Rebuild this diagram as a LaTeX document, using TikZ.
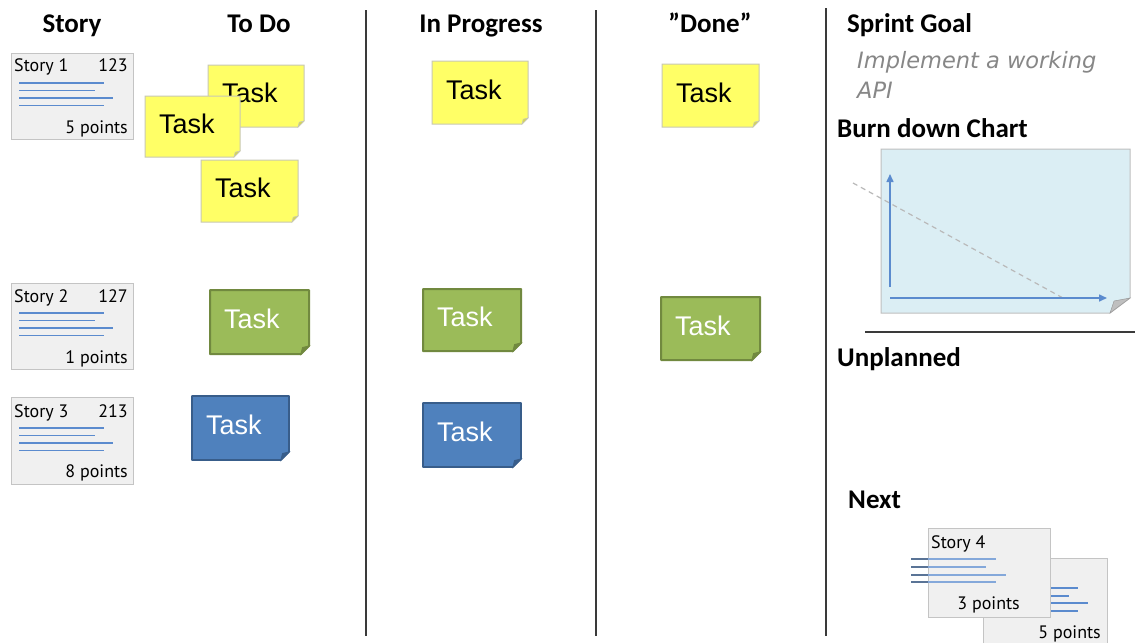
\documentclass[tikz,border=0pt]{standalone}
\usepackage{fontspec}
\setmainfont{Carlito}
\newfontfamily\taskfont{Liberation Sans}
\newfontfamily\cardfont{PT Sans}
\newfontfamily\goalfont{DejaVu Sans}
\usetikzlibrary{arrows.meta}

\definecolor{notey}{HTML}{FFFF66}
\definecolor{noteyline}{HTML}{C8C8B4}
\definecolor{noteyfold}{HTML}{D6D650}
\definecolor{greenfill}{HTML}{9BBB59}
\definecolor{greenline}{HTML}{71893F}
\definecolor{bluefill}{HTML}{4F81BD}
\definecolor{blueline}{HTML}{385D8A}
\definecolor{cardfill}{HTML}{F0F0F0}
\definecolor{cardline}{HTML}{C4C4C4}
\definecolor{lineblue}{HTML}{5B8BCE}
\definecolor{linedark}{HTML}{5A7496}
\definecolor{chartfill}{HTML}{DBEEF4}
\definecolor{chartline}{HTML}{BFBFBF}
\definecolor{divider}{HTML}{3A3A3A}
\definecolor{goalgray}{HTML}{878787}

\tikzset{
  header/.style={font=\bfseries\fontsize{27}{32}\selectfont, inner sep=0pt},
  tasktext/.style={font=\taskfont\fontsize{27}{32}\selectfont, inner sep=0pt, anchor=west},
  cardtxt/.style={font=\cardfont\fontsize{18}{21}\selectfont, inner sep=0pt},
  goaltxt/.style={font=\goalfont\itshape\fontsize{22.5}{30}\selectfont, text=goalgray, anchor=base west, inner sep=0pt},
  yellownote/.style={fill=notey, draw=noteyline, line width=1},
  yellowfold/.style={fill=noteyfold, draw=noteyline, line width=0.6},
  greennote/.style={fill=greenfill, draw=greenline, line width=2, line join=round},
  greenfold/.style={fill=greenline, draw=greenline, line width=1},
  bluenote/.style={fill=bluefill, draw=blueline, line width=1.6, line join=round},
  bluefold/.style={fill=blueline, draw=blueline, line width=1},
  storycard/.style={fill=cardfill, draw=cardline, line width=1},
  storyline/.style={lineblue, line width=1.6},
  divline/.style={divider, line width=2},
  axis/.style={lineblue, line width=1.5, -{Triangle[length=8,width=7]}},
}

% sticky note with a folded bottom-right corner and its "Task" label
% #1 name, #2 x1, #3 y1, #4 x2, #5 y2, #6 body style, #7 fold style, #8 fold size, #9 text colour
\newcommand\stickynote[9]{%
  \path[#6] (#2,#3) -- (#4,#3) -- (#4,#5-#8) -- (#4-#8,#5) -- (#2,#5) -- cycle;
  \path[#7] (#4,#5-#8) -- (#4-#8,#5) -- (#4-#8*0.8,#5-#8*0.8) -- cycle;
  \node[tasktext, text=#9] (#1) at (#2+14,{(#3+#5)/2-3}) {Task};
}

% four ruled lines on a story card: x start, first y, then the four end points
\newcommand\cardlines[6]{%
  \draw[storyline] (#1,#2) -- (#3,#2);
  \draw[storyline] (#1,#2+7.5) -- (#4,#2+7.5);
  \draw[storyline] (#1,#2+15) -- (#5,#2+15);
  \draw[storyline] (#1,#2+22.5) -- (#6,#2+22.5);
}

\begin{document}
\begin{tikzpicture}[x=1pt,y=-1pt]
\useasboundingbox[fill=white] (0,0) rectangle (1135,643);

% column dividers
\coordinate (d1t) at (366,10); \coordinate (d1b) at (366,636);
\coordinate (d2t) at (596,10); \coordinate (d2b) at (596,636);
\coordinate (d3t) at (826,8);  \coordinate (d3b) at (826,636);
\draw[divline] (d1t) -- (d1b);
\draw[divline] (d2t) -- (d2b);
\draw[divline] (d3t) -- (d3b);

% column headers
\node[header, anchor=base] (hStory) at (72,32) {Story};
\node[header, anchor=base] (hTodo) at (259,32) {To Do};
\node[header, anchor=base] (hProg) at (481,32) {In Progress};
\node[header, anchor=base] (hDone) at (710,32) {”Done”};
\node[header, anchor=base west] (hGoal) at (847,32) {Sprint Goal};

% story cards
\path[storycard] (11,53) rectangle (133,139);
\node[cardtxt, anchor=base west] (s1t) at (14,71) {Story 1};
\node[cardtxt, anchor=base east] (s1n) at (128,71) {123};
\cardlines{19}{83}{104}{95}{113}{104}
\node[cardtxt, anchor=base east] (s1p) at (128,133) {5 points};

\path[storycard] (11,283) rectangle (133,369);
\node[cardtxt, anchor=base west] (s2t) at (14,302) {Story 2};
\node[cardtxt, anchor=base east] (s2n) at (128,302) {127};
\cardlines{19}{313}{104}{95}{113}{104}
\node[cardtxt, anchor=base east] (s2p) at (128,363) {1 points};

\path[storycard] (11,397) rectangle (133,484);
\node[cardtxt, anchor=base west] (s3t) at (14,417) {Story 3};
\node[cardtxt, anchor=base east] (s3n) at (128,417) {213};
\cardlines{19}{428}{104}{95}{113}{104}
\node[cardtxt, anchor=base east] (s3p) at (128,477) {8 points};

% story 1 tasks
\stickynote{t1a}{208}{65}{304}{127}{yellownote}{yellowfold}{6}{black}
\stickynote{t1b}{145}{96}{240}{157}{yellownote}{yellowfold}{6}{black}
\stickynote{t1c}{201}{160}{298}{222}{yellownote}{yellowfold}{6}{black}
\stickynote{t1d}{432}{61}{528}{124}{yellownote}{yellowfold}{6}{black}
\stickynote{t1e}{662}{64}{759}{127}{yellownote}{yellowfold}{6}{black}

% story 2 tasks
\stickynote{t2a}{210}{290}{309}{354}{greennote}{greenfold}{8}{white}
\stickynote{t2b}{423}{289}{521}{351}{greennote}{greenfold}{8}{white}
\stickynote{t2c}{661}{297}{760}{360}{greennote}{greenfold}{8}{white}

% story 3 tasks
\stickynote{t3a}{192}{396}{289}{460}{bluenote}{bluefold}{8}{white}
\stickynote{t3b}{423}{403}{521}{467}{bluenote}{bluefold}{8}{white}

% sprint goal
\node[goaltxt] (goal1) at (857,68) {Implement a working};
\node[goaltxt] (goal2) at (857,98) {API};

% burn down chart
\node[header, anchor=base west] (hBurn) at (837,137) {Burn down Chart};
\path[fill=chartfill, draw=chartline, line width=1] (881,149) -- (1130,149) -- (1130,298) -- (1110,313) -- (881,313) -- cycle;
\path[fill=chartline, draw=chartline!80!black, line width=0.5] (1130,298) -- (1110,313) -- (1114,301) -- cycle;
\coordinate (origin) at (890,298);
\coordinate (ytop) at (890,174);
\coordinate (ybot) at (890,287);
\coordinate (xend) at (1107,298);
\coordinate (ideal0) at (853,183);
\coordinate (ideal1) at (1063,298);
\draw[gray!55, line width=1.2, dash pattern=on 5pt off 4pt] (ideal0) -- (ideal1);
\draw[axis] (ybot) -- (ytop);
\draw[axis] (origin) -- (xend);

\coordinate (rulea) at (865,332); \coordinate (ruleb) at (1135,332);
\draw[divider, line width=1.5] (rulea) -- (ruleb);

% unplanned / next
\node[header, anchor=base west] (hUnpl) at (837,366) {Unplanned};
\node[header, anchor=base west] (hNext) at (848,508) {Next};

% next stories
\path[fill=cardfill] (983,558) rectangle (1107,643);
\draw[cardline, line width=1] (983,643) -- (983,558) -- (1107,558) -- (1107,643);
\draw[storyline] (1051,588) -- (1078,588);
\draw[storyline] (1051,596) -- (1069,596);
\draw[storyline] (1051,603) -- (1088,603);
\draw[storyline] (1051,611) -- (1078,611);
\node[cardtxt, anchor=base east] (s5p) at (1101,638) {5 points};

\path[storycard] (928,528) rectangle (1050,617);
\foreach \yy/\xe in {559/996, 567/986, 575/1006, 582/996} {
  \draw[linedark, line width=1.6] (911,\yy) -- (928,\yy);
  \draw[lineblue!75, line width=1.6] (928,\yy) -- (\xe,\yy);
}
\node[cardtxt, anchor=base west] (s4t) at (931,548) {Story 4};
\node[cardtxt, anchor=base east] (s4p) at (1020,609) {3 points};
\end{tikzpicture}
\end{document}
